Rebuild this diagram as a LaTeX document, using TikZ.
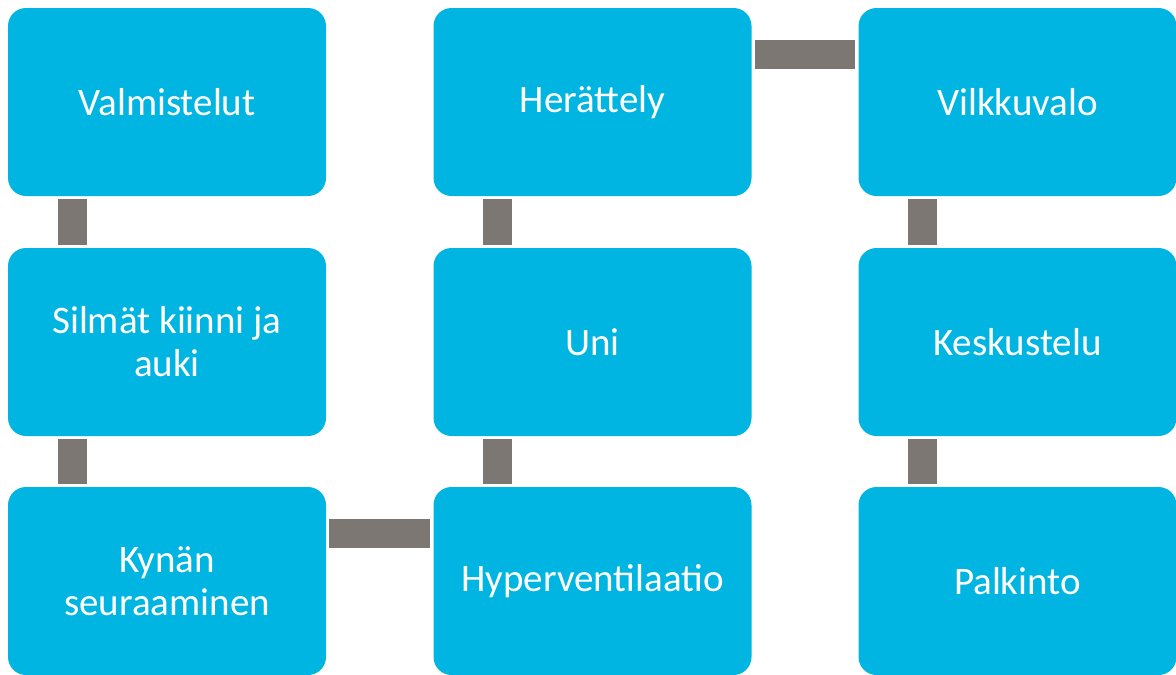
\documentclass[tikz,border=0pt]{standalone}
\usepackage{fontspec}
\setmainfont{Carlito}
\usepackage{xcolor}
\definecolor{boxcyan}{HTML}{00B5E2}
\definecolor{linkgray}{HTML}{7C7773}
\tikzset{
  stage/.style={rectangle,rounded corners=18pt,fill=boxcyan,text=white,minimum width=318pt,minimum height=188pt,align=center,font=\fontsize{39}{43}\selectfont},
  link/.style={linkgray,line width=29pt,shorten >=3pt,shorten <=3pt}
}
\begin{document}
\begin{tikzpicture}[x=1pt,y=-1pt]
\useasboundingbox (0,0) rectangle (1176,675);
\node[stage](valm)at(167,102){Valmistelut};
\node[stage](silm)at(167,342){Silmät kiinni ja\\auki};
\node[stage](kyna)at(167,581){Kynän\\seuraaminen};
\node[stage](hyper)at(592.5,581){Hyperventilaatio};
\node[stage](uni)at(592.5,342){Uni};
\node[stage](hera)at(592.5,102){Herättely};
\node[stage](vilk)at(1017.5,102){Vilkkuvalo};
\node[stage](kesk)at(1017.5,342){Keskustelu};
\node[stage](palk)at(1017.5,581){Palkinto};
\draw[link]([xshift=-95pt]valm.south)--([xshift=-95pt]silm.north);
\draw[link]([xshift=-95pt]silm.south)--([xshift=-95pt]kyna.north);
\draw[link]([yshift=48pt]kyna.east)--([yshift=48pt]hyper.west);
\draw[link]([xshift=-95pt]hyper.north)--([xshift=-95pt]uni.south);
\draw[link]([xshift=-95pt]uni.north)--([xshift=-95pt]hera.south);
\draw[link]([yshift=48pt]hera.east)--([yshift=48pt]vilk.west);
\draw[link]([xshift=-95pt]vilk.south)--([xshift=-95pt]kesk.north);
\draw[link]([xshift=-95pt]kesk.south)--([xshift=-95pt]palk.north);
\end{tikzpicture}
\end{document}
